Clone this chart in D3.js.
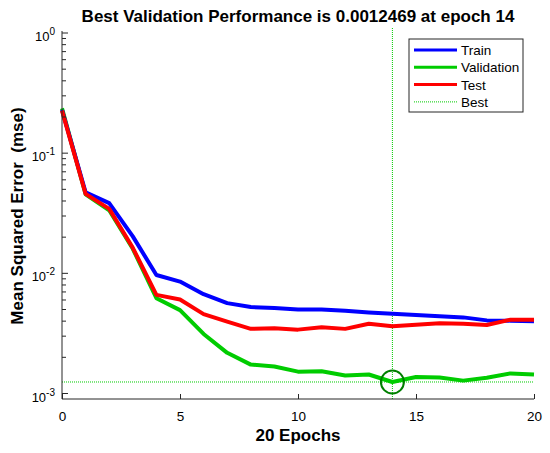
<!DOCTYPE html>
<html>
<head>
<meta charset="utf-8">
<script src="https://cdn.jsdelivr.net/npm/d3@7"></script>
<style>
body { margin: 0; background: #fff; }
text { font-family: "Liberation Sans", Arial, sans-serif; fill: #000; }
</style>
</head>
<body>
<svg id="chart" width="550" height="453"></svg>
<script>
// epochs 0..20
var epochs = d3.range(0, 21);
var trainPerf = [0.229, 0.0472, 0.0384, 0.0203, 0.00968, 0.00854, 0.0067, 0.00565, 0.00524, 0.00514,
    0.00501, 0.0050, 0.00489, 0.00473, 0.00461, 0.0045, 0.00439, 0.0043, 0.00406, 0.00404, 0.00399];
var valPerf = [0.236, 0.0455, 0.0335, 0.0160, 0.00621, 0.00494, 0.00313, 0.00218, 0.00174, 0.00168,
    0.00152, 0.00153, 0.00141, 0.00144, 0.0012469, 0.00137, 0.00136, 0.00128, 0.00135, 0.00147, 0.00144];
var testPerf = [0.226, 0.0458, 0.0344, 0.0163, 0.00662, 0.00606, 0.00458, 0.00396, 0.00345, 0.00349,
    0.0034, 0.00356, 0.00345, 0.00381, 0.00363, 0.00374, 0.00384, 0.00381, 0.00372, 0.00411, 0.00411];
var bestEpoch = 14;
var bestPerf = 0.0012469;
var xTicks = [0, 5, 10, 15, 20];
var yTicks = [1e-3, 1e-2, 1e-1, 1];

var series = [
    {name: "Train", values: trainPerf, color: "#0000ff"},
    {name: "Validation", values: valPerf, color: "#00cc00"},
    {name: "Test", values: testPerf, color: "#ff0000"}
];

var svg = d3.select("#chart");
// plot box (named so it doesn't clash with window.top)
var pLeft = 62, pRight = 534, pTop = 33, pBottom = 399;

var x = d3.scaleLinear().domain([0, 20]).range([pLeft, pRight]);
var y = d3.scaleLog().domain([0.0009, 1]).range([pBottom, pTop]);

var g = svg.append("g");

// best lines (dotted)
g.append("line")
    .attr("x1", x(bestEpoch)).attr("x2", x(bestEpoch))
    .attr("y1", pTop - 5).attr("y2", pBottom)
    .style("stroke", "#00cc00").style("stroke-width", 1)
    .style("stroke-dasharray", "1,1");
g.append("line")
    .attr("x1", pLeft).attr("x2", pRight)
    .attr("y1", y(bestPerf)).attr("y2", y(bestPerf))
    .style("stroke", "#00cc00").style("stroke-width", 1)
    .style("stroke-dasharray", "1,1");

// curves
var line = d3.line()
    .x(function(d, i){ return x(epochs[i]); })
    .y(function(d){ return y(d); });

// validation first so train/test sit over it like the original
[series[1], series[0], series[2]].forEach(function(s){
    g.append("path")
        .attr("d", line(s.values))
        .style("fill", "none")
        .style("stroke", s.color)
        .style("stroke-width", 4)
        .style("stroke-linejoin", "round");
});

// best circle
g.append("circle")
    .attr("cx", x(bestEpoch)).attr("cy", y(bestPerf))
    .attr("r", 11.5)
    .style("fill", "none")
    .style("stroke", "#007f00")
    .style("stroke-width", 2);

// axes
var axisColor = "#262626";
var xAxis = d3.axisBottom(x).tickValues(xTicks).tickSize(-5).tickPadding(12);
var gx = svg.append("g").attr("transform", "translate(0," + pBottom + ")").call(xAxis);
gx.select(".domain").attr("d", "M" + pLeft + ",0H" + pRight).style("stroke", axisColor);
gx.selectAll(".tick line").style("stroke", axisColor);
gx.selectAll(".tick text").style("font-size", "13.5px").style("font-family", "Liberation Sans, Arial, sans-serif").style("fill", "#000");

// y axis with minor ticks
var minorTicks = [];
[1e-3, 1e-2, 1e-1].forEach(function(dec){
    for(var k = 2; k <= 9; k++) minorTicks.push(dec * k);
});
var gy = svg.append("g").attr("transform", "translate(" + pLeft + ",0)");
gy.append("line").attr("x1", 0).attr("x2", 0).attr("y1", pTop - 2).attr("y2", pBottom).style("stroke", axisColor);
gy.selectAll(".minor").data(minorTicks).enter().append("line")
    .attr("class", "minor")
    .attr("x1", 0).attr("x2", 4)
    .attr("y1", function(d){ return y(d); }).attr("y2", function(d){ return y(d); })
    .style("stroke", axisColor);
var major = gy.selectAll(".major").data(yTicks).enter().append("g")
    .attr("class", "major")
    .attr("transform", function(d){ return "translate(0," + y(d) + ")"; });
major.append("line").attr("x1", 0).attr("x2", 6).style("stroke", axisColor);
var lbl = major.append("text")
    .attr("x", -7).attr("y", 8)
    .attr("text-anchor", "end")
    .style("font-size", "13px");
lbl.append("tspan").text("10");
lbl.append("tspan")
    .attr("dy", -6)
    .style("font-size", "10px")
    .text(function(d){ return Math.round(Math.log10(d)); });

// title and axis labels
svg.append("text")
    .attr("x", (pLeft + pRight) / 2).attr("y", 22)
    .attr("text-anchor", "middle")
    .style("font-size", "17px").style("font-weight", "bold")
    .text("Best Validation Performance is " + bestPerf + " at epoch " + bestEpoch);

svg.append("text")
    .attr("x", (pLeft + pRight) / 2).attr("y", 441)
    .attr("text-anchor", "middle")
    .style("font-size", "17px").style("font-weight", "bold")
    .text("20 Epochs");

svg.append("text")
    .attr("transform", "translate(23," + ((pTop + pBottom) / 2) + ") rotate(-90)")
    .attr("text-anchor", "middle")
    .style("font-size", "17px").style("font-weight", "bold")
    .style("white-space", "pre")
    .text("Mean Squared Error  (mse)");

// legend
var legend = svg.append("g").attr("transform", "translate(409,39)");
legend.append("rect")
    .attr("width", 114).attr("height", 73)
    .style("fill", "#fff").style("stroke", axisColor).style("stroke-width", 1);
var entries = series.map(function(s){ return {name: s.name, color: s.color, dotted: false}; });
entries.push({name: "Best", color: "#00cc00", dotted: true});
var item = legend.selectAll(".item").data(entries).enter().append("g")
    .attr("class", "item")
    .attr("transform", function(d, i){ return "translate(0," + (11 + i * 17.3) + ")"; });
item.append("line")
    .attr("x1", 5).attr("x2", 48)
    .style("stroke", function(d){ return d.color; })
    .style("stroke-width", function(d){ return d.dotted ? 1 : 3; })
    .style("stroke-dasharray", function(d){ return d.dotted ? "1,1" : null; });
item.append("text")
    .attr("x", 52).attr("y", 5)
    .style("font-size", "13.5px")
    .text(function(d){ return d.name; });
</script>
</body>
</html>
